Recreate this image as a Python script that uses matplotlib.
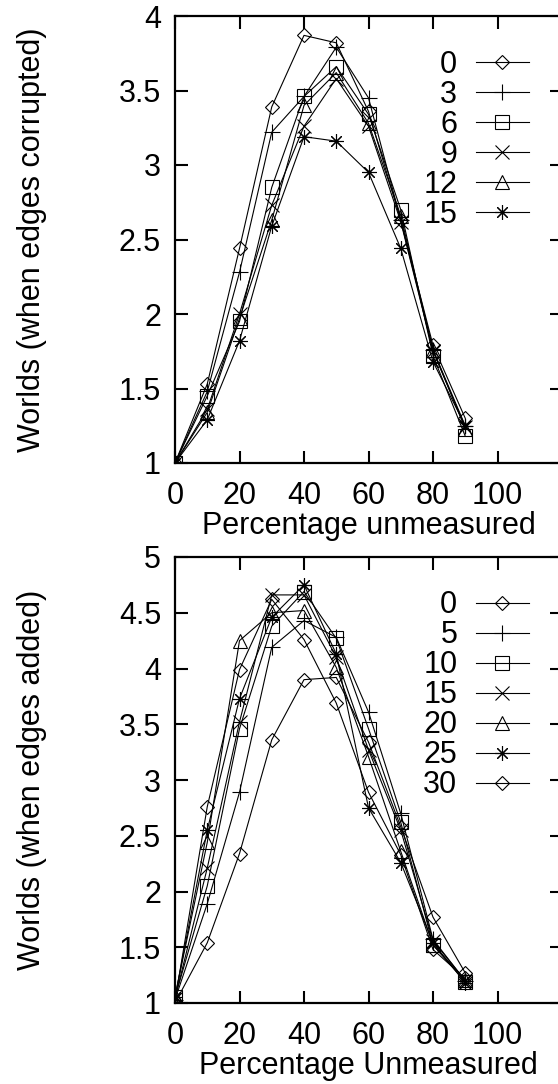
import numpy as np
import matplotlib
matplotlib.use("Agg")
from matplotlib import pyplot as plt

plt.rcParams['font.family'] = ['Liberation Sans', 'DejaVu Sans']

pct = [0, 10, 20, 30, 40, 50, 60, 70, 80, 90]

# top panel: edges corrupted
corr_labels = ['0', '3', '6', '9', '12', '15']
corr_0 = [1.0, 1.53, 2.44, 3.39, 3.87, 3.82, 3.36, 2.63, 1.79, 1.30]
corr_3 = [1.0, 1.48, 2.28, 3.22, 3.46, 3.79, 3.45, 2.63, 1.76, 1.25]
corr_6 = [1.0, 1.45, 1.95, 2.85, 3.46, 3.66, 3.34, 2.70, 1.72, 1.18]
corr_9 = [1.0, 1.36, 2.00, 2.73, 3.26, 3.58, 3.26, 2.62, 1.75, 1.24]
corr_12 = [1.0, 1.34, 1.97, 2.63, 3.40, 3.62, 3.28, 2.66, 1.76, 1.23]
corr_15 = [1.0, 1.29, 1.82, 2.59, 3.19, 3.16, 2.95, 2.44, 1.68, 1.25]

# bottom panel: edges added
add_labels = ['0', '5', '10', '15', '20', '25', '30']
add_0 = [1.02, 2.76, 3.99, 4.62, 4.26, 3.69, 2.89, 2.33, 1.48, 1.22]
add_5 = [1.03, 1.89, 2.89, 4.19, 4.43, 4.28, 3.61, 2.70, 1.57, 1.20]
add_10 = [1.05, 2.05, 3.46, 4.38, 4.69, 4.27, 3.46, 2.62, 1.52, 1.19]
add_15 = [1.04, 2.21, 3.52, 4.66, 4.66, 4.10, 3.27, 2.55, 1.56, 1.20]
add_20 = [1.06, 2.44, 4.25, 4.50, 4.52, 4.01, 3.21, 2.36, 1.52, 1.21]
add_25 = [1.05, 2.55, 3.73, 4.46, 4.75, 4.13, 2.75, 2.26, 1.54, 1.18]
add_30 = [1.0, 1.54, 2.34, 3.36, 3.90, 3.92, 3.34, 2.58, 1.77, 1.27]

mk = {'D': 7.5, '+': 11, 's': 10, 'x': 9.5, '^': 10, (8, 2, 0): 10.5}
corr_markers = ['D', '+', 's', 'x', '^', (8, 2, 0)]
add_markers = ['D', '+', 's', 'x', '^', (8, 2, 0), 'D']

FS = 22


def draw(ax, series, labels, markers, ymax, yname, xname):
    for ys, lab, m in zip(series, labels, markers):
        ax.plot(pct, ys, color='black', lw=0.8, marker=m, markersize=mk[m],
                markerfacecolor='none', markeredgecolor='black',
                markeredgewidth=0.8, label=lab)
    ax.set_xlim(0, 120)
    ax.set_ylim(1, ymax)
    ax.set_xticks([0, 20, 40, 60, 80, 100])
    ax.set_yticks(np.arange(1, ymax + 0.01, 0.5))
    ax.set_yticklabels(['%g' % v for v in np.arange(1, ymax + 0.01, 0.5)])
    ax.tick_params(direction='in', length=9, width=1.5, top=True, right=True,
                   labelsize=FS)
    ax.tick_params(axis='y', pad=10)
    ax.tick_params(axis='x', pad=13)
    for s in ax.spines.values():
        s.set_linewidth(1.6)
    ax.set_ylabel(yname, fontsize=FS)
    ax.yaxis.set_label_coords(-0.33, 0.5)
    ax.set_xlabel(xname, fontsize=FS, labelpad=0)
    leg = ax.legend(loc='upper right', bbox_to_anchor=(0.915, 0.925),
                    frameon=False, markerfirst=False, fontsize=FS,
                    borderpad=0, borderaxespad=0, handlelength=1.75,
                    handletextpad=0.6, labelspacing=0.0)
    # right-align the label column like gnuplot's key
    for col in leg._legend_handle_box.get_children():
        col.align = 'right'


fig = plt.figure(figsize=(5.58, 10.84), dpi=100)
ax1 = fig.add_axes([175 / 558, 1 - 463 / 1084, 387 / 558, 447 / 1084])
ax2 = fig.add_axes([175 / 558, 1 - 1003 / 1084, 387 / 558, 446 / 1084])

draw(ax1, [corr_0, corr_3, corr_6, corr_9, corr_12, corr_15], corr_labels,
     corr_markers, 4, 'Worlds (when edges corrupted)', 'Percentage unmeasured')
draw(ax2, [add_0, add_5, add_10, add_15, add_20, add_25, add_30], add_labels,
     add_markers, 5, 'Worlds (when edges added)', 'Percentage Unmeasured')

fig.savefig('out.png', dpi=100)
